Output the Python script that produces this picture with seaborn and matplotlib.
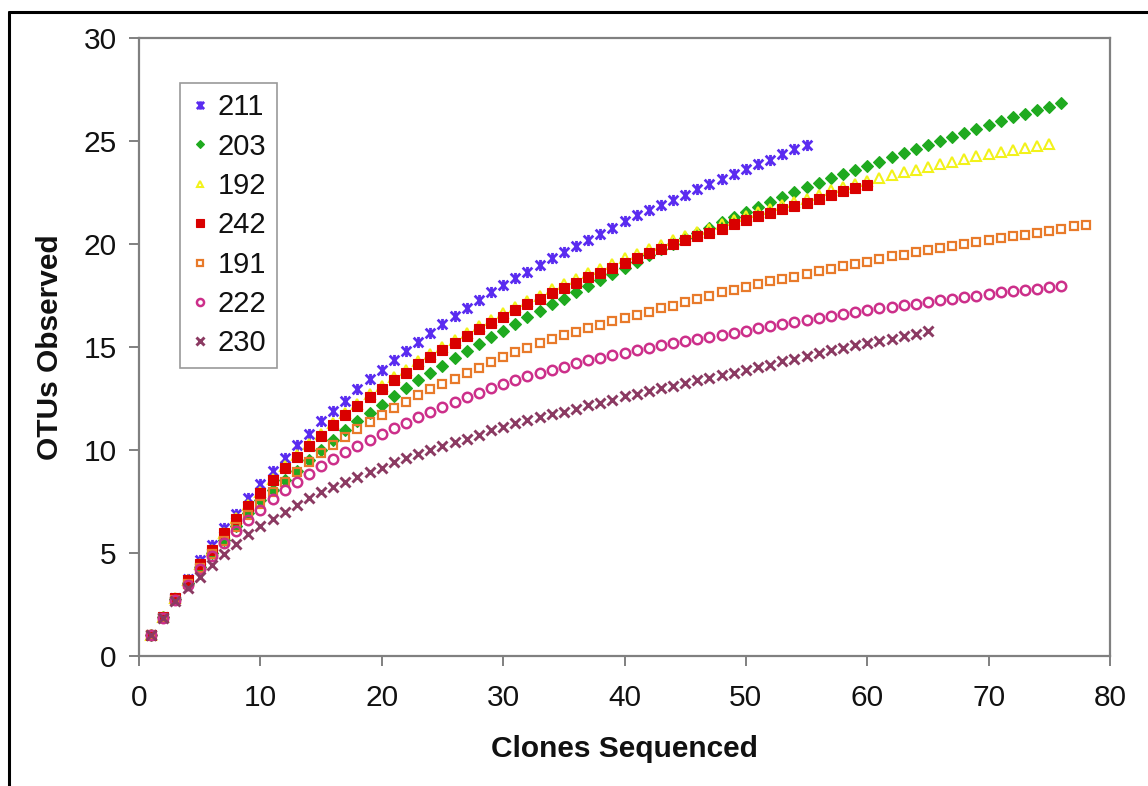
import numpy as np
import pandas as pd
import matplotlib
matplotlib.use("Agg")
import matplotlib.pyplot as plt
from matplotlib.lines import Line2D
from matplotlib.path import Path
import seaborn as sns

# ---------------- data ----------------
series_names = ["211", "203", "192", "242", "191", "222", "230"]

otus_211 = [1.0, 1.9, 2.8, 3.75, 4.65, 5.4, 6.2, 6.9, 7.65, 8.35,
            9.0, 9.6, 10.25, 10.8, 11.4, 11.9, 12.4, 12.95, 13.45, 13.9,
            14.35, 14.8, 15.25, 15.7, 16.1, 16.5, 16.9, 17.3, 17.65, 18.0,
            18.35, 18.65, 19.0, 19.3, 19.6, 19.9, 20.2, 20.5, 20.8, 21.1,
            21.4, 21.65, 21.9, 22.15, 22.4, 22.65, 22.9, 23.15, 23.4, 23.65,
            23.9, 24.1, 24.35, 24.6, 24.8]
otus_203 = [1.0, 1.9, 2.75, 3.55, 4.3, 5.0, 5.65, 6.3, 6.95, 7.55,
            8.05, 8.55, 9.0, 9.5, 10.0, 10.5, 10.95, 11.4, 11.8, 12.2,
            12.6, 13.0, 13.4, 13.75, 14.1, 14.45, 14.8, 15.15, 15.5, 15.8,
            16.1, 16.45, 16.75, 17.1, 17.35, 17.65, 17.95, 18.25, 18.55, 18.85,
            19.15, 19.45, 19.75, 20.0, 20.3, 20.55, 20.8, 21.05, 21.3, 21.55,
            21.8, 22.05, 22.3, 22.5, 22.75, 22.95, 23.2, 23.4, 23.6, 23.8,
            24.0, 24.2, 24.4, 24.6, 24.8, 25.0, 25.2, 25.4, 25.6, 25.8,
            25.95, 26.15, 26.3, 26.5, 26.65, 26.85]
otus_192 = [1.0, 1.9, 2.8, 3.7, 4.45, 5.15, 5.95, 6.7, 7.35, 7.95,
            8.6, 9.2, 9.75, 10.3, 10.8, 11.3, 11.8, 12.25, 12.7, 13.1,
            13.55, 13.9, 14.3, 14.65, 15.0, 15.35, 15.7, 16.0, 16.3, 16.65,
            16.95, 17.25, 17.5, 17.8, 18.05, 18.3, 18.6, 18.8, 19.05, 19.3,
            19.5, 19.75, 19.95, 20.2, 20.4, 20.6, 20.75, 20.95, 21.15, 21.35,
            21.55, 21.7, 21.9, 22.05, 22.2, 22.4, 22.6, 22.75, 22.9, 23.05,
            23.2, 23.35, 23.5, 23.6, 23.75, 23.9, 24.0, 24.15, 24.25, 24.35,
            24.45, 24.55, 24.65, 24.75, 24.85]
otus_242 = [1.0, 1.9, 2.8, 3.7, 4.45, 5.15, 5.95, 6.65, 7.3, 7.93,
            8.55, 9.15, 9.65, 10.2, 10.7, 11.2, 11.7, 12.15, 12.55, 12.96,
            13.4, 13.75, 14.17, 14.5, 14.85, 15.2, 15.55, 15.85, 16.15, 16.47,
            16.8, 17.1, 17.33, 17.6, 17.85, 18.1, 18.4, 18.6, 18.85, 19.1,
            19.3, 19.55, 19.75, 20.0, 20.2, 20.4, 20.55, 20.75, 20.95, 21.15,
            21.35, 21.5, 21.7, 21.85, 22.0, 22.2, 22.4, 22.55, 22.7, 22.85]
otus_191 = [1.0, 1.85, 2.7, 3.5, 4.25, 4.95, 5.6, 6.25, 6.85, 7.4,
            7.95, 8.45, 8.95, 9.4, 9.85, 10.25, 10.65, 11.0, 11.35, 11.7,
            12.05, 12.35, 12.65, 12.95, 13.2, 13.45, 13.75, 14.0, 14.25, 14.5,
            14.75, 14.95, 15.2, 15.4, 15.6, 15.75, 15.9, 16.05, 16.25, 16.4,
            16.55, 16.7, 16.9, 17.0, 17.2, 17.35, 17.5, 17.65, 17.75, 17.9,
            18.05, 18.2, 18.3, 18.4, 18.55, 18.7, 18.8, 18.95, 19.05, 19.15,
            19.25, 19.4, 19.45, 19.6, 19.7, 19.8, 19.9, 20.0, 20.1, 20.2,
            20.3, 20.4, 20.45, 20.55, 20.65, 20.75, 20.85, 20.9]
otus_222 = [1.0, 1.85, 2.7, 3.45, 4.2, 4.85, 5.5, 6.05, 6.6, 7.1,
            7.6, 8.05, 8.45, 8.85, 9.2, 9.55, 9.9, 10.2, 10.5, 10.8,
            11.05, 11.3, 11.6, 11.85, 12.1, 12.35, 12.55, 12.75, 13.0, 13.2,
            13.4, 13.6, 13.75, 13.9, 14.05, 14.2, 14.35, 14.45, 14.6, 14.7,
            14.85, 14.95, 15.1, 15.2, 15.3, 15.4, 15.5, 15.6, 15.7, 15.8,
            15.9, 16.0, 16.1, 16.2, 16.3, 16.4, 16.5, 16.6, 16.7, 16.8,
            16.9, 16.95, 17.05, 17.1, 17.2, 17.3, 17.35, 17.45, 17.5, 17.55,
            17.65, 17.7, 17.75, 17.8, 17.9, 17.95]
otus_230 = [1.0, 1.85, 2.65, 3.3, 3.85, 4.4, 4.95, 5.45, 5.9, 6.3,
            6.65, 7.0, 7.35, 7.65, 7.95, 8.2, 8.45, 8.7, 8.95, 9.15,
            9.4, 9.6, 9.8, 10.0, 10.2, 10.4, 10.55, 10.75, 10.95, 11.1,
            11.3, 11.45, 11.6, 11.75, 11.85, 12.0, 12.2, 12.3, 12.45, 12.6,
            12.7, 12.85, 13.0, 13.1, 13.25, 13.4, 13.5, 13.65, 13.75, 13.9,
            14.05, 14.15, 14.3, 14.4, 14.55, 14.7, 14.85, 14.95, 15.1, 15.2,
            15.3, 15.4, 15.55, 15.65, 15.8]

x_ticks = [0, 10, 20, 30, 40, 50, 60, 70, 80]
y_ticks = [0, 5, 10, 15, 20, 25, 30]

all_otus = [otus_211, otus_203, otus_192, otus_242, otus_191, otus_222, otus_230]
frames = []
for name, vals in zip(series_names, all_otus):
    frames.append(pd.DataFrame({"Sample": name,
                                "Clones": np.arange(1, len(vals) + 1),
                                "OTUs": vals}))
df = pd.concat(frames, ignore_index=True)

# Excel-like "star" marker: an X with a vertical bar through it
star_marker = Path([(-1, -1), (1, 1), (-1, 1), (1, -1), (0, -1.15), (0, 1.15)],
                   [Path.MOVETO, Path.LINETO, Path.MOVETO, Path.LINETO,
                    Path.MOVETO, Path.LINETO])

# ---------------- styles ----------------
styles = {
    "211": dict(marker=star_marker, color="#5a2cf0", mfc="#5a2cf0", ms=8.0, mew=2.0),
    "203": dict(marker="D", color="#1faa1f", mfc="#1faa1f", ms=6.0, mew=0.8),
    "192": dict(marker="^", color="#f2f21a", mfc="none", ms=6.5, mew=1.5),
    "242": dict(marker="s", color="#d90000", mfc="#d90000", ms=7.4, mew=0.8),
    "191": dict(marker="s", color="#e87a2a", mfc="none", ms=6.0, mew=1.6),
    "222": dict(marker="o", color="#cc2f8a", mfc="none", ms=6.8, mew=1.8),
    "230": dict(marker="x", color="#8b3a62", mfc="none", ms=7.4, mew=2.1),
}

sns.set_theme(style="white")
plt.rcParams["font.family"] = ["Liberation Sans", "DejaVu Sans"]

W, H = 1148, 786
fig = plt.figure(figsize=(W / 100, H / 100), dpi=100)
fig.patch.set_facecolor("white")

ax_left, ax_right, ax_top, ax_bottom = 139, 1110, 38, 656
ax = fig.add_axes([ax_left / W, 1 - ax_bottom / H,
                   (ax_right - ax_left) / W, (ax_bottom - ax_top) / H])

for i, name in enumerate(series_names):
    st = styles[name]
    sub = df[df["Sample"] == name]
    sns.lineplot(data=sub, x="Clones", y="OTUs", ax=ax,
                 color=st["color"], marker=st["marker"], linestyle="none",
                 markersize=st["ms"], markerfacecolor=st["mfc"],
                 markeredgecolor=st["color"], markeredgewidth=st["mew"],
                 label=name, zorder=3 + i)

ax.set_xlim(0, 80)
ax.set_ylim(0, 30)
ax.set_xticks(x_ticks)
ax.set_yticks(y_ticks)
ax.set_xticklabels([str(t) for t in x_ticks])
ax.set_yticklabels([str(t) for t in y_ticks])

for s in ax.spines.values():
    s.set_color("#808080")
    s.set_linewidth(1.6)
ax.tick_params(axis="both", which="major", direction="out", length=7,
               width=1.4, color="#808080", labelsize=21.5, labelcolor="#111111",
               bottom=True, left=True)
ax.tick_params(axis="x", pad=13)
ax.tick_params(axis="y", pad=9)
ax.grid(False)

ax.set_xlabel("Clones Sequenced", fontsize=21.5, fontweight="bold", color="#111111")
ax.set_ylabel("OTUs Observed", fontsize=21.5, fontweight="bold", color="#111111")
ax.xaxis.set_label_coords(0.5, -0.128)
ax.yaxis.set_label_coords(-0.077, 0.5)

leg = ax.legend(loc="upper left", bbox_to_anchor=((180 - ax_left) / (ax_right - ax_left),
                                                   (ax_bottom - 83) / (ax_bottom - ax_top)),
                borderaxespad=0, frameon=True, fancybox=False, shadow=False,
                fontsize=21, markerscale=0.75, handlelength=0.7, handletextpad=0.25,
                borderpad=0.35, labelspacing=0.39, numpoints=1)
leg.get_frame().set_edgecolor("#808080")
leg.get_frame().set_linewidth(1.2)
for t in leg.get_texts():
    t.set_color("#111111")

# outer chart-area border (top and left edges visible)
fig.add_artist(Line2D([9 / W, 1.0], [1 - 12 / H, 1 - 12 / H], transform=fig.transFigure,
                      color="black", linewidth=2.2))
fig.add_artist(Line2D([9 / W, 9 / W], [1 - 12 / H, 0.0], transform=fig.transFigure,
                      color="black", linewidth=2.2))

fig.savefig("out.png", dpi=100)
